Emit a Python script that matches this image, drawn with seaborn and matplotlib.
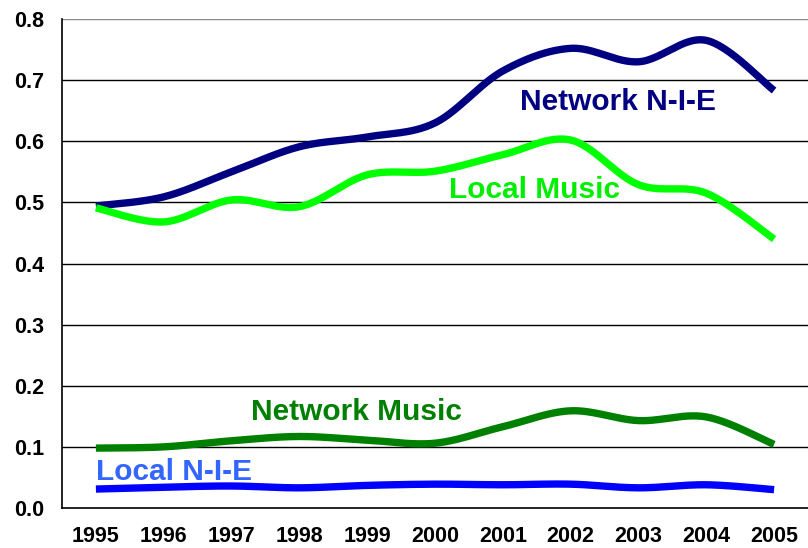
import numpy as np
import pandas as pd
import seaborn as sns
import matplotlib.pyplot as plt

years = ['1995', '1996', '1997', '1998', '1999', '2000', '2001', '2002', '2003', '2004', '2005']
network_nie = [0.494, 0.509, 0.550, 0.591, 0.607, 0.630, 0.715, 0.752, 0.730, 0.765, 0.683]
local_music = [0.491, 0.468, 0.504, 0.493, 0.545, 0.551, 0.578, 0.602, 0.529, 0.515, 0.440]
network_music = [0.098, 0.100, 0.110, 0.117, 0.111, 0.106, 0.133, 0.159, 0.143, 0.149, 0.104]
local_nie = [0.031, 0.034, 0.036, 0.033, 0.037, 0.039, 0.038, 0.039, 0.033, 0.038, 0.030]

series = [
    ('Network N-I-E', network_nie, '#000080', '#000080', 6.26, 0.651),
    ('Local Music', local_music, '#00FF00', '#00EE00', 5.20, 0.507),
    ('Network Music', network_music, '#008000', '#008000', 2.29, 0.144),
    ('Local N-I-E', local_nie, '#0000FF', '#3366FF', 0.00, 0.046),
]


def smooth(y, steps=30):
    # excel-style smoothed line (bezier through points, tension 1/6)
    y = np.asarray(y, dtype=float)
    x = np.arange(len(y), dtype=float)
    px = np.concatenate([[x[0]], x, [x[-1]]])
    py = np.concatenate([[y[0]], y, [y[-1]]])
    xs, ys = [], []
    t = np.linspace(0, 1, steps)
    for i in range(len(y) - 1):
        p0x, p0y = px[i + 1], py[i + 1]
        p3x, p3y = px[i + 2], py[i + 2]
        c1x = p0x + (px[i + 2] - px[i]) / 6
        c1y = p0y + (py[i + 2] - py[i]) / 6
        c2x = p3x - (px[i + 3] - px[i + 1]) / 6
        c2y = p3y - (py[i + 3] - py[i + 1]) / 6
        bx = (1 - t)**3 * p0x + 3 * (1 - t)**2 * t * c1x + 3 * (1 - t) * t**2 * c2x + t**3 * p3x
        by = (1 - t)**3 * p0y + 3 * (1 - t)**2 * t * c1y + 3 * (1 - t) * t**2 * c2y + t**3 * p3y
        xs.extend(bx)
        ys.extend(by)
    return np.array(xs), np.array(ys)


sns.set_style('white')
plt.rcParams['font.family'] = ['Liberation Sans', 'DejaVu Sans']

fig = plt.figure(figsize=(8.08, 5.48), dpi=100)
ax = fig.add_axes([62 / 808, 40 / 548, 746 / 808, 489 / 548])

for name, vals, color, tcolor, tx, ty in series:
    xs, ys = smooth(vals)
    sns.lineplot(x=xs, y=ys, color=color, linewidth=5.3, sort=False, ax=ax,
                 solid_capstyle='butt', zorder=3)
    ax.text(tx, ty, name, color=tcolor, fontsize=21.5, fontweight='bold',
            ha='left', va='baseline', zorder=4)

ax.set_xlim(-0.5, -0.5 + 746 / 68.7)
ax.set_ylim(0, 0.8)
ax.set_xticks(range(len(years)))
ax.set_xticklabels(years, fontsize=15.5, fontweight='bold', color='black')
ax.set_xticks(np.arange(-0.5, len(years), 1), minor=True)
ax.tick_params(axis='x', which='major', length=0, pad=13)
ax.tick_params(axis='x', which='minor', length=5, width=1, color='black', direction='out')
yt = np.round(np.arange(0, 0.81, 0.1), 1)
ax.set_yticks(yt)
ax.set_yticklabels([f'{v:.1f}' for v in yt], fontsize=15.5, fontweight='bold', color='black')
ax.tick_params(axis='y', length=5, width=1, color='black', direction='out', pad=8)

for v in yt[1:]:
    ax.axhline(v, color='#888888' if v == 0.8 else 'black', linewidth=1, zorder=1)

for s in ['top', 'right']:
    ax.spines[s].set_visible(False)
for s in ['left', 'bottom']:
    ax.spines[s].set_color('black')
    ax.spines[s].set_linewidth(1.2)
ax.set_xlabel('')
ax.set_ylabel('')

fig.savefig('out.png', dpi=100)
